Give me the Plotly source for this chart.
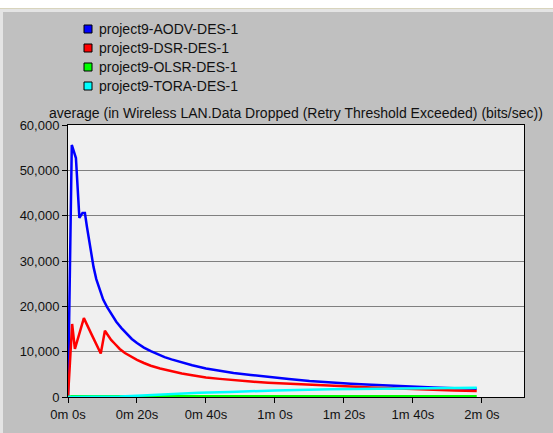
import plotly.graph_objects as go

# ---- data (seconds, bits/sec) ----
aodv_t = [0, 1.1, 2.3, 3.3, 4.2, 4.9, 5.5, 6.4, 7.4, 8.2, 9, 10.2, 11.3, 12.5, 14, 15.5, 17, 18.5, 20, 22, 24, 26,
          28, 30, 33, 36, 40, 44, 48, 53, 58, 64, 70, 76, 82, 88, 94, 100, 106, 112, 118.5]
aodv_v = [0, 55600, 52700, 39500, 40600, 40600, 37500, 32900, 28700, 26000, 24000, 21500, 19900, 18300, 16600,
          15200, 13900, 12800, 11900, 10900, 10100, 9400, 8800, 8300, 7600, 7000, 6300, 5800, 5300, 4850, 4400,
          3950, 3550, 3200, 2950, 2700, 2450, 2250, 2100, 1950, 1800]

dsr_t = [0, 1.2, 2.0, 4.6, 6.9, 9.5, 10.7, 11.5, 12.5, 13.5, 15, 16.5, 18, 20, 22, 24, 26.7, 30, 33, 36, 40, 44,
         48, 53, 58, 64, 70, 76, 82, 88, 94, 100, 106, 112, 118.5]
dsr_v = [0, 16100, 10600, 17400, 13700, 9600, 14600, 13600, 12600, 11800, 10600, 9700, 9000, 8200, 7500, 6900,
         6300, 5700, 5200, 4800, 4300, 4000, 3700, 3400, 3150, 2900, 2700, 2500, 2300, 2100, 1900, 1750, 1600,
         1450, 1300]

olsr_t = [0, 1, 20, 40, 60, 80, 100, 118.5]
olsr_v = [0, 150, 150, 150, 150, 150, 150, 150]

tora_t = [0, 10, 15, 20, 25, 30, 38, 47, 60, 76, 90, 100, 118.5]
tora_v = [0, 0, 100, 300, 500, 650, 950, 1100, 1450, 1700, 1850, 1950, 2050]

names = ["project9-AODV-DES-1", "project9-DSR-DES-1", "project9-OLSR-DES-1", "project9-TORA-DES-1"]
colors = ["#0000ff", "#ff0000", "#00ff00", "#00ffff"]

x_tickvals = [0, 20, 40, 60, 80, 100, 120]
x_ticktext = ["0m 0s", "0m 20s", "0m 40s", "1m 0s", "1m 20s", "1m 40s", "2m 0s"]
y_tickvals = [0, 10000, 20000, 30000, 40000, 50000, 60000]

title_text = "average (in Wireless LAN.Data Dropped (Retry Threshold Exceeded) (bits/sec))"

# ---- figure ----
W, H = 553, 433
ML, MR, MT, MB = 68, 29, 125, 36
PW, PH = W - ML - MR, H - MT - MB

def px(x):
    return (x - ML) / PW

def py(y):
    return (H - MB - y) / PH

fig = go.Figure()
series = [(aodv_t, aodv_v), (dsr_t, dsr_v), (olsr_t, olsr_v), (tora_t, tora_v)]
for (t, v), n, c in zip(series, names, colors):
    fig.add_trace(go.Scatter(x=t, y=v, mode="lines", name=n,
                             line=dict(color=c, width=2.5), showlegend=False))

shapes = []
annotations = []
# window chrome
shapes.append(dict(type="rect", xref="paper", yref="paper", x0=px(0), x1=px(W), y0=py(0), y1=py(8),
                   fillcolor="#ffffff", line=dict(width=0), layer="below"))
shapes.append(dict(type="rect", xref="paper", yref="paper", x0=px(0), x1=px(W), y0=py(8), y1=py(9),
                   fillcolor="#d8d4bc", line=dict(width=0), layer="below"))
shapes.append(dict(type="rect", xref="paper", yref="paper", x0=px(0), x1=px(W), y0=py(9), y1=py(12),
                   fillcolor="#e4e4e4", line=dict(width=0), layer="below"))
shapes.append(dict(type="rect", xref="paper", yref="paper", x0=px(0), x1=px(3), y0=py(9), y1=py(H),
                   fillcolor="#e4e4e4", line=dict(width=0), layer="below"))

# legend
rows = [29, 48, 67, 86]
for yc, n, c in zip(rows, names, colors):
    shapes.append(dict(type="rect", xref="paper", yref="paper",
                       x0=px(84), x1=px(92), y0=py(yc + 4), y1=py(yc - 4),
                       fillcolor=c, line=dict(color="#000000", width=1)))
    annotations.append(dict(text=n, xref="paper", yref="paper", x=px(97), y=py(yc),
                            xanchor="left", yanchor="middle", showarrow=False,
                            font=dict(family="Liberation Sans, Arial", size=14, color="#111111")))

annotations.append(dict(text=title_text, xref="paper", yref="paper", x=0.5, y=py(112.5),
                        xanchor="center", yanchor="middle", showarrow=False,
                        font=dict(family="Liberation Sans, Arial", size=14, color="#111111")))

fig.update_layout(
    width=W, height=H,
    margin=dict(l=ML, r=MR, t=MT, b=MB, pad=0),
    paper_bgcolor="#c0c0c0",
    plot_bgcolor="#f0f0f0",
    font=dict(family="Liberation Sans, Arial", size=13, color="#111111"),
    shapes=shapes,
    annotations=annotations,
    showlegend=False,
)
fig.update_xaxes(range=[0, 132.2], tickvals=x_tickvals, ticktext=x_ticktext, automargin=False,
                 showgrid=False, zeroline=False, showline=True, linecolor="#000000", linewidth=1,
                 mirror=True, ticks="outside", ticklen=5, tickcolor="#000000")
fig.update_yaxes(range=[0, 60000], tickvals=y_tickvals, tickformat=",d", automargin=False,
                 showgrid=True, gridcolor="#808080", gridwidth=1, zeroline=False,
                 showline=True, linecolor="#000000", linewidth=1, mirror=True,
                 ticks="outside", ticklen=5, tickcolor="#000000")

fig.write_html("out.html", config={"displayModeBar": False},
               post_script="document.body.style.margin='0px';document.body.style.overflow='hidden';")
